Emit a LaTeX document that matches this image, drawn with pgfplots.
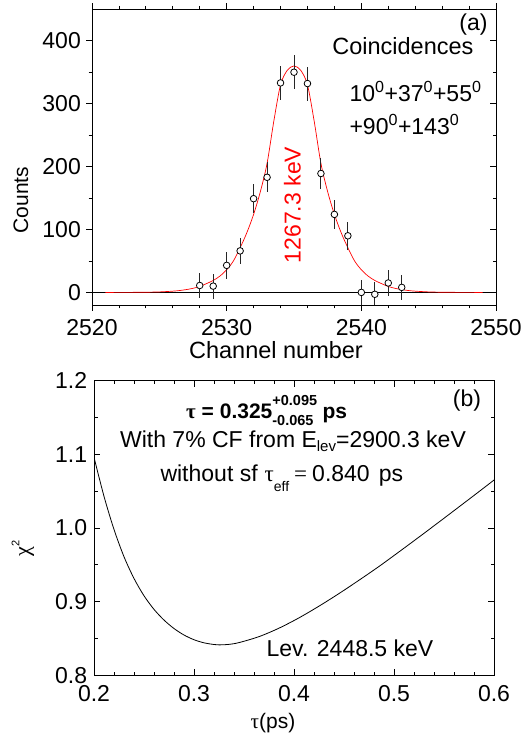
\documentclass[border=0pt]{standalone}
\usepackage{fontspec}
\setmainfont{Liberation Sans}
\newfontfamily\grk{Liberation Serif}
\usepackage{pgfplots}
\usepackage{pgfplotstable}
\pgfplotsset{compat=1.18}

\pgfplotstableread{
c N e
2528 11 20
2529 10 20
2530 43 21
2531 66 21
2532 149 23
2533 183 24
2534 333 27
2535 350 27
2536 332 27
2537 189 24
2538 124 23
2539 90 22
2540 0 20
2541 -3 19
2542 15 20
2543 8 20
}\peakdata

\pgfplotstableread{
c N
2521.0 0.0
2523.0 0.1
2524.0 0.3
2525.0 0.8
2526.0 2.0
2526.5 3.0
2527.0 4.5
2527.5 6.5
2528.0 9.5
2528.5 14
2529.0 19
2529.5 26
2530.0 36
2530.5 50
2531.0 71
2531.5 95
2532.0 124
2532.5 160
2533.0 205
2533.5 272
2534.0 330
2534.5 353
2535.0 360
2535.5 353
2536.0 330
2536.5 272
2537.0 205
2537.5 160
2538.0 124
2538.5 95
2539.0 71
2539.5 50
2540.0 36
2540.5 26
2541.0 19
2541.5 14
2542.0 9.5
2542.5 6.5
2543.0 4.5
2543.5 3.0
2544.0 2.0
2545.0 0.8
2546.0 0.3
2547.0 0.1
2549.0 0.0
}\fitdata

\pgfplotstableread{
t chi
0.200 1.0960
0.210 1.0430
0.220 0.9980
0.230 0.9610
0.240 0.9315
0.250 0.9080
0.260 0.8895
0.270 0.8750
0.280 0.8635
0.290 0.8547
0.300 0.8483
0.310 0.8441
0.320 0.8418
0.325 0.8413
0.335 0.8420
0.345 0.8444
0.365 0.8525
0.385 0.8640
0.405 0.8780
0.425 0.8939
0.445 0.9110
0.465 0.9291
0.485 0.9478
0.505 0.9676
0.525 0.9877
0.545 1.0081
0.565 1.0287
0.585 1.0494
0.600 1.0651
}\chidata

\begin{document}
\begin{tikzpicture}
\useasboundingbox (0pt,0pt) rectangle (521pt,740pt);
\pgfplotsset{
  common/.style={
    scale only axis, anchor=south west,
    axis line style={line width=0.9pt},
    major tick length=6pt, minor tick length=3.5pt,
    every tick/.append style={line width=0.8pt, black},
    every minor tick/.append style={line width=0.8pt, black},
    ticklabel style={font=\fontsize{23}{23}\selectfont, inner sep=0pt},
    /pgf/number format/assume math mode=true,
    /pgf/number format/1000 sep={},
  }
}
% ---------- top panel ----------
\begin{axis}[common, at={(92pt,435pt)}, width=404pt, height=295.7pt,
  xmin=2520, xmax=2550, ymin=-20, ymax=450,
  xtick={2520,2530,2540,2550}, minor x tick num=4,
  ytick={0,100,200,300,400}, minor y tick num=1,
  tick align=outside, ytick pos=left, xtick pos=both,
  xticklabel style={yshift=-7.8pt}, yticklabel style={xshift=-5pt},
]
\addplot[black, line width=0.9pt] coordinates {(2520,0) (2550,0)};
\addplot[red, line width=0.7pt, smooth] table[x=c, y=N] {\fitdata};
\addplot[only marks, mark=*, mark size=3.3pt,
  mark options={fill=white, draw=black, line width=0.8pt},
  error bars/.cd, y dir=both, y explicit,
  error bar style={line width=1pt, black!85}, error mark=none]
  table[x=c, y=N, y error=e] {\peakdata};
\end{axis}
\begin{axis}[common, at={(92pt,435pt)}, width=404pt, height=295.7pt,
  xmin=2520, xmax=2550, ymin=-20, ymax=450,
  xtick=\empty, ytick={0,100,200,300,400}, minor y tick num=1,
  ytick pos=right, tick align=inside, yticklabels={},
]
\end{axis}
% ---------- bottom panel ----------
\begin{axis}[common, at={(94pt,64.7pt)}, width=400pt, height=294.6pt,
  xmin=0.2, xmax=0.6, ymin=0.8, ymax=1.2,
  xtick={0.2,0.3,0.4,0.5,0.6}, minor x tick num=4,
  ytick={0.8,0.9,1.0,1.1,1.2}, minor y tick num=1,
  tick align=inside,
  xticklabel style={yshift=-9.7pt, /pgf/number format/.cd, fixed, fixed zerofill, precision=1},
  yticklabel style={xshift=-6.7pt, /pgf/number format/.cd, fixed, fixed zerofill, precision=1},
]
\addplot[black, line width=0.8pt, smooth] table[x=t, y=chi] {\chidata};
\end{axis}
% ---------- texts ----------
\node[font=\fontsize{23}{23}\selectfont] at (473.5pt,715pt) {(a)};
\node[anchor=base east, font=\fontsize{23.5}{23.5}\selectfont] at (477pt,685pt) {Coincidences};
\node[anchor=base west, font=\fontsize{23}{23}\selectfont] at (346pt,638.3pt) {10\textsuperscript{0}+37\textsuperscript{0}+55\textsuperscript{0}};
\node[anchor=base west, font=\fontsize{23}{23}\selectfont] at (346pt,605pt) {+90\textsuperscript{0}+143\textsuperscript{0}};
\node[rotate=90, text=red, font=\fontsize{23}{23}\selectfont] at (292.5pt,535pt) {1267.3 keV};
\node[rotate=90, font=\fontsize{21}{21}\selectfont] at (21pt,540pt) {Counts};
\node[anchor=base, font=\fontsize{23.5}{23.5}\selectfont] at (276pt,381.7pt) {Channel number};

\node[anchor=base west, font=\fontsize{21}{21}\selectfont\bfseries] at (182.7pt,321pt)
  {{\grk\bfseries τ} = 0.325\rlap{\raisebox{13pt}{\fontsize{14.5}{14.5}\selectfont +0.095}}\raisebox{-6.8pt}{\fontsize{14.5}{14.5}\selectfont -0.065}\hspace{9pt}ps};
\node[font=\fontsize{23}{23}\selectfont] at (467pt,339pt) {(b)};
\node[anchor=base, font=\fontsize{23}{23}\selectfont] at (293pt,292.5pt)
  {With 7\% CF from E\raisebox{-4pt}{\fontsize{15}{15}\selectfont lev}=2900.3 keV};
\node[anchor=base west, font=\fontsize{23}{23}\selectfont] at (157pt,258pt)
  {without sf\hspace{7pt}{\grk τ}\raisebox{-10pt}{\fontsize{14}{14}\selectfont eff}\hspace{5pt}{\grk =}\hspace{5pt}0.840\hspace{9pt}ps};
\node[anchor=base, font=\fontsize{23}{23}\selectfont] at (350pt,83.3pt) {Lev. 2448.5 keV};
\node[rotate=90, font=\fontsize{22}{22}\selectfont] at (23pt,191.5pt) {{\grk χ}\raisebox{10pt}{\fontsize{11}{11}\selectfont 2}};
\node[anchor=base, font=\fontsize{21}{21}\selectfont] at (273pt,11pt) {{\grk τ}(ps)};
\end{tikzpicture}
\end{document}
